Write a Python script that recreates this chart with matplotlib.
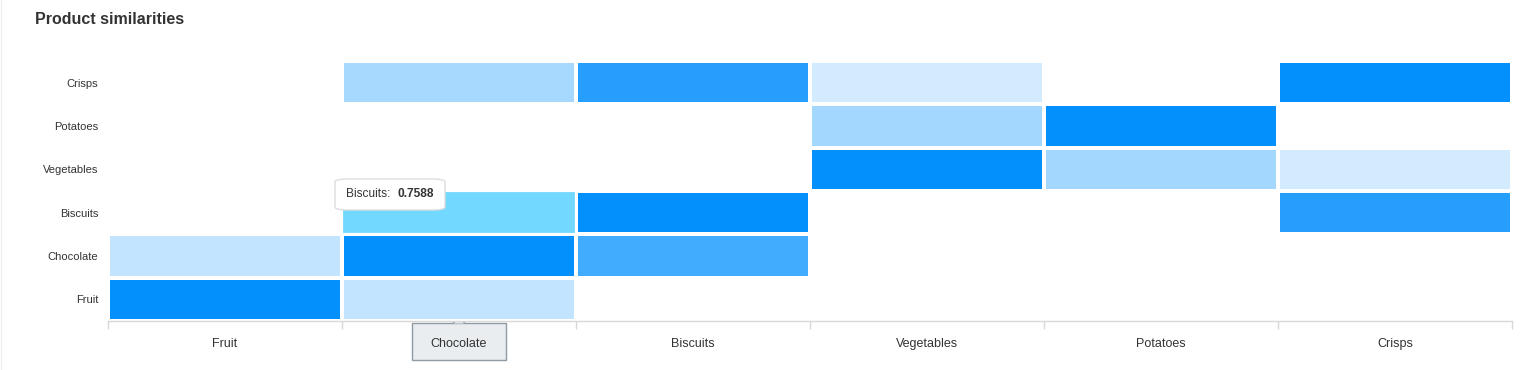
import numpy as np
import matplotlib
matplotlib.use('Agg')
from matplotlib import pyplot as plt
from matplotlib.colors import LinearSegmentedColormap
from matplotlib.patches import Rectangle, FancyBboxPatch, Polygon
from matplotlib.lines import Line2D

# Categories (same on both axes), rows listed bottom -> top
products = ['Fruit', 'Chocolate', 'Biscuits', 'Vegetables', 'Potatoes', 'Crisps']

# Similarity values, one list per row (y category), columns follow products; None = no cell
fruitRow = [1.0, 0.24, None, None, None, None]
chocolateRow = [0.24, 1.0, 0.75, None, None, None]
biscuitsRow = [None, 0.7588, 1.0, None, None, 0.86]
vegetablesRow = [None, None, None, 1.0, 0.36, 0.18]
potatoesRow = [None, None, None, 0.36, 1.0, None]
crispsRow = [None, 0.35, 0.86, 0.18, None, 1.0]

hoverRow, hoverCol = 2, 1  # Biscuits / Chocolate cell under the mouse

plt.rcParams['font.family'] = ['Liberation Sans', 'DejaVu Sans']

def main():
    rows = [fruitRow, chocolateRow, biscuitsRow, vegetablesRow, potatoesRow, crispsRow]
    values = np.array([[np.nan if v is None else v for v in r] for r in rows])
    masked = np.ma.masked_invalid(values)

    cmap = LinearSegmentedColormap.from_list('sim', ['#FFFFFF', '#0390FC'])

    fig = plt.figure(figsize=(15.31, 3.70), dpi=100)
    ax = fig.add_axes([108 / 1531, 49 / 370, 1404 / 1531, 260 / 370])
    ax.patch.set_alpha(0)

    ax.pcolormesh(np.arange(7), np.arange(7), masked, cmap=cmap, vmin=0, vmax=1,
                  edgecolors='white', linewidth=1.6)

    # hovered cell gets the highlight colour
    ax.add_patch(Rectangle((hoverCol, hoverRow), 1, 1, facecolor='#72D8FF',
                           edgecolor='white', linewidth=1.6, zorder=3))

    ax.set_xlim(0, 6)
    ax.set_ylim(0, 6)

    ax.set_xticks(np.arange(7))
    ax.set_xticklabels([])
    ax.set_xticks(np.arange(6) + 0.5, minor=True)
    ax.set_xticklabels(products, minor=True, fontsize=9, color='#333333')
    ax.tick_params(axis='x', which='major', length=6, color='#D8D8D8', width=1)
    ax.tick_params(axis='x', which='minor', length=0, pad=12)

    ax.set_yticks(np.arange(6) + 0.5)
    ax.set_yticklabels(products, fontsize=8, color='#333333')
    ax.tick_params(axis='y', length=0, pad=7)

    for side in ['top', 'right', 'left']:
        ax.spines[side].set_visible(False)
    ax.spines['bottom'].set_color('#D8D8D8')
    ax.spines['bottom'].set_linewidth(1)

    # faint left border of the chart container
    fig.lines.append(Line2D([0.0004, 0.0004], [0, 1], transform=fig.transFigure,
                            color='#F0F0F0', linewidth=1))

    fig.text(35 / 1531, 1 - 20 / 370, 'Product similarities', fontsize=11.5,
             fontweight='bold', color='#333333', va='center', ha='left')

    # value tooltip
    tip = FancyBboxPatch((335 / 1531, 1 - 210 / 370), 110 / 1531, 31 / 370,
                         boxstyle='round,pad=0,rounding_size=0.008',
                         transform=fig.transFigure, facecolor='white',
                         edgecolor='#DDDDDD', linewidth=1, zorder=10)
    fig.patches.append(tip)
    fig.text(346 / 1531, 1 - 194 / 370, products[hoverRow] + ':', fontsize=8.6,
             color='#333333', va='center', ha='left', zorder=11)
    fig.text(398 / 1531, 1 - 194 / 370, '%.4f' % values[hoverRow, hoverCol], fontsize=8.6,
             fontweight='bold', color='#333333', va='center', ha='left', zorder=11)

    # crosshair label box on the x axis, drawn behind the axis tick label
    lab = Rectangle((412 / 1531, 1 - 360 / 370), 94 / 1531, 37 / 370,
                    transform=fig.transFigure, facecolor='#E9EDF0',
                    edgecolor='#8E9AA4', linewidth=1, zorder=-1)
    fig.patches.append(lab)
    arrow = Polygon([[453 / 1531, 1 - 323.5 / 370], [459 / 1531, 1 - 317 / 370],
                     [465 / 1531, 1 - 323.5 / 370]], closed=False,
                    transform=fig.transFigure, facecolor='#E9EDF0',
                    edgecolor='#8E9AA4', linewidth=1, zorder=-1)
    fig.patches.append(arrow)

    fig.savefig('out.png', dpi=100)

if __name__ == '__main__':
    main()
